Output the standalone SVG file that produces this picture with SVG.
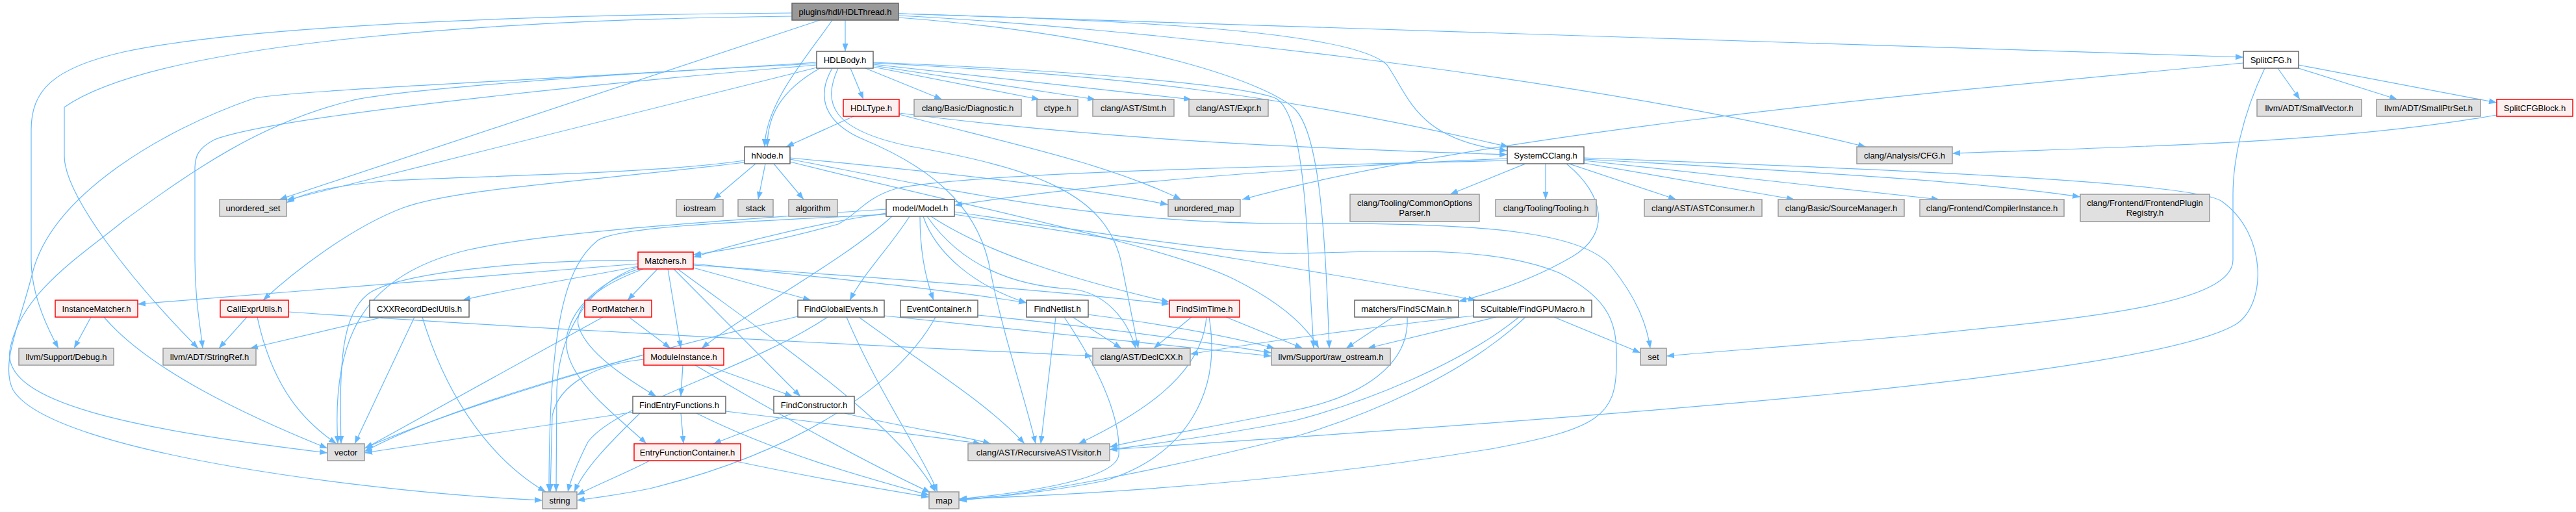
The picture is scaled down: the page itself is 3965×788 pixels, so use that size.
<svg xmlns="http://www.w3.org/2000/svg" width="3965" height="788" viewBox="0 0 3965 788">
<style>
.n rect{stroke-width:1.5}
.w rect{fill:#ffffff;stroke:#666666}
.g rect{fill:#e0e0e0;stroke:#999999}
.r rect{fill:#fff0f0;stroke:#ff0000}
.root rect{fill:#999999;stroke:#666666}
.n text{font-family:"Liberation Sans",Arial,Helvetica,sans-serif;font-size:13px;text-anchor:middle;fill:#000000}
#edges path{fill:none;stroke:#63b8ff;stroke-width:1.2;marker-end:url(#a)}
</style>
<defs>
<marker id="a" markerWidth="12" markerHeight="9" refX="12" refY="4.5" orient="auto" markerUnits="userSpaceOnUse"><path d="M0,0 L12,4.5 L0,9 z" fill="#63b8ff"/></marker>
</defs>
<rect width="3965" height="788" fill="#ffffff"/>
<g id="edges">
<path d="M1301,31 L1301,79"/>
<path d="M1281,31 C1240,90 1178,160 1177,226"/>
<path d="M1262,31 L430,307"/>
<path d="M1219,20 C900,22 400,35 190,80 C80,105 48,140 48,200 L48,400 C48,450 70,500 90,536"/>
<path d="M1219,25 C800,30 250,60 99,165 L99,240 C99,300 200,430 305,536"/>
<path d="M1383,21 C1700,30 2080,45 2135,100 C2170,150 2180,215 2320,232"/>
<path d="M1383,21 L3453,88"/>
<path d="M1383,24 C1700,40 2400,110 2872,226"/>
<path d="M1383,27 C1750,55 1960,130 1995,170 C2030,210 2040,350 2046,536"/>
<path d="M1262,105 C1200,140 1181,180 1181,226"/>
<path d="M1309,105 L1329,153"/>
<path d="M1332,105 L1450,153"/>
<path d="M1344,103 L1600,153"/>
<path d="M1344,101 L1686,153"/>
<path d="M1344,99 L1834,153"/>
<path d="M1344,97 C1700,115 1950,140 2322,226"/>
<path d="M1257,104 L441,308"/>
<path d="M1257,100 C900,130 420,180 330,215 C305,228 300,240 300,260 L300,400 C300,460 308,500 312,536"/>
<path d="M1257,98 C900,115 600,140 540,155 C400,190 300,260 190,340 C130,390 30,450 15,540 C5,620 200,660 504,697"/>
<path d="M1257,96 C900,120 420,140 389,152 C250,200 80,300 50,420 C30,500 0,560 20,600 C80,700 600,760 835,770"/>
<path d="M1290,105 C1265,160 1280,200 1400,225 C1600,260 1700,300 1725,400 C1735,450 1745,500 1752,536"/>
<path d="M1281,105 C1255,150 1270,190 1330,215 C1450,265 1510,330 1525,420 C1545,520 1580,620 1594,683"/>
<path d="M1344,96 C1700,110 1930,135 1965,152 C1995,172 2008,260 2014,400 L2022,536"/>
<path d="M1314,179 L1210,226"/>
<path d="M1384,176 C1550,220 1700,250 1818,307"/>
<path d="M1384,174 C1700,215 2000,228 2320,238"/>
<path d="M1163,252 L1098,307"/>
<path d="M1178,252 L1167,307"/>
<path d="M1191,252 L1237,307"/>
<path d="M1146,247 C1000,268 750,270 600,278 C520,285 470,295 441,312"/>
<path d="M1146,250 C900,280 700,290 620,320 C540,350 450,420 405,462"/>
<path d="M1216,243 C1500,270 1700,295 1798,315"/>
<path d="M1216,245 C1500,300 1700,345 2000,344 C2300,342 2440,360 2480,410 C2520,460 2535,500 2540,536"/>
<path d="M1216,249 C1500,320 1800,380 1900,430 C1970,465 2010,500 2030,536"/>
<path d="M3506,105 L3540,153"/>
<path d="M3538,105 L3690,153"/>
<path d="M3538,100 L3843,158"/>
<path d="M3453,97 C3000,140 2300,200 1912,307"/>
<path d="M3486,105 C3450,180 3437,250 3437,300 L3437,400 C3437,470 3200,490 2960,515 C2800,530 2650,540 2565,548"/>
<path d="M3843,177 C3600,220 3300,225 3005,236"/>
<path d="M2348,252 L2232,299"/>
<path d="M2379,252 L2379,307"/>
<path d="M2415,252 L2580,307"/>
<path d="M2438,251 L2762,307"/>
<path d="M2438,247 L2985,307"/>
<path d="M2438,245 C2800,265 3050,280 3202,303"/>
<path d="M2320,244 C2000,258 1700,280 1469,316"/>
<path d="M2411,252 C2470,300 2480,360 2420,395 C2360,430 2300,450 2245,464"/>
<path d="M2438,243 C2900,260 3380,280 3420,310 C3490,360 3490,470 3440,500 C3300,580 2500,640 1708,692"/>
<path d="M2320,247 C2000,255 1500,265 1380,290 C1330,305 1320,330 1290,345 C1200,370 1120,385 1067,392"/>
<path d="M1364,328 C1250,345 1150,370 1067,396"/>
<path d="M1373,333 C1300,400 1150,480 1080,536"/>
<path d="M1364,322 C1100,340 800,360 700,390 C560,430 510,520 520,683"/>
<path d="M1364,330 C1100,343 950,350 920,370 C870,410 845,500 845,757"/>
<path d="M1400,333 C1370,380 1330,420 1308,462"/>
<path d="M1416,333 C1416,390 1425,430 1437,462"/>
<path d="M1421,333 C1440,390 1500,440 1580,466"/>
<path d="M1427,333 C1480,410 1560,440 1650,445 C1700,450 1735,490 1748,536"/>
<path d="M1433,333 C1520,390 1650,430 1800,465"/>
<path d="M1469,330 C1800,380 2100,430 2272,462"/>
<path d="M1469,326 C1700,360 1900,392 2000,390 C2150,386 2300,378 2400,420 C2480,460 2490,500 2488,560 C2488,640 2460,660 2300,690 C2000,740 1700,760 1476,768"/>
<path d="M1012,414 L966,462"/>
<path d="M1028,414 L1048,536"/>
<path d="M1037,414 L1232,610"/>
<path d="M1043,414 C1200,530 1380,650 1440,757"/>
<path d="M1067,412 L1248,462"/>
<path d="M1067,406 C1300,430 1450,445 1580,466"/>
<path d="M1067,408 C1400,430 1650,450 1800,468"/>
<path d="M990,414 C920,440 885,470 890,500 C900,540 960,580 1010,610"/>
<path d="M982,406 L212,468"/>
<path d="M982,410 C880,430 780,445 712,462"/>
<path d="M982,401 C800,400 620,420 570,450 C525,480 522,560 525,683"/>
<path d="M982,411 C900,440 860,520 857,600 L856,757"/>
<path d="M984,414 C930,430 880,470 872,520 C865,580 950,640 995,683"/>
<path d="M968,488 L1032,536"/>
<path d="M928,488 L562,690"/>
<path d="M1051,562 L1048,610"/>
<path d="M1087,562 L1220,610"/>
<path d="M1070,562 C1200,640 1350,720 1432,758"/>
<path d="M991,553 C920,560 860,590 850,640 L847,757"/>
<path d="M991,546 C800,600 650,650 561,690"/>
<path d="M1303,488 C1350,600 1420,700 1443,757"/>
<path d="M1322,488 C1420,560 1520,620 1577,683"/>
<path d="M1361,486 C1600,510 1800,530 1957,548"/>
<path d="M1274,488 C1150,570 950,620 905,680 C890,710 878,740 874,757"/>
<path d="M1228,487 C1000,540 700,620 561,695"/>
<path d="M1505,485 C1700,505 1850,525 1957,543"/>
<path d="M1440,488 C1390,580 1250,690 1000,752 C950,762 910,767 888,770"/>
<path d="M1651,488 L1726,536"/>
<path d="M1625,488 L1602,683"/>
<path d="M1638,488 C1700,580 1725,650 1722,700 C1718,740 1560,760 1476,768"/>
<path d="M1674,484 C1800,500 1900,520 1962,536"/>
<path d="M1834,488 L1776,536"/>
<path d="M1857,488 C1850,580 1750,640 1660,683"/>
<path d="M1861,488 C1880,600 1830,700 1700,740 C1600,760 1520,765 1476,770"/>
<path d="M1887,488 L2005,536"/>
<path d="M2144,488 L2072,536"/>
<path d="M2166,488 C2170,560 2100,610 1990,632 C1850,660 1760,675 1708,688"/>
<path d="M2303,488 L2105,536"/>
<path d="M2268,486 C2100,505 1950,525 1832,545"/>
<path d="M2338,488 C2250,560 2100,620 1990,648 C1850,675 1760,685 1708,692"/>
<path d="M2348,488 C2250,580 2100,640 2000,670 C1800,720 1600,760 1476,770"/>
<path d="M2392,488 L2525,543"/>
<path d="M140,488 L114,536"/>
<path d="M160,488 C230,570 380,640 504,690"/>
<path d="M380,488 L337,536"/>
<path d="M396,488 C420,600 470,650 518,683"/>
<path d="M444,480 C800,505 1300,530 1682,548"/>
<path d="M590,488 L385,536"/>
<path d="M638,488 L546,683"/>
<path d="M650,488 C690,620 760,710 840,757"/>
<path d="M1048,636 L1052,683"/>
<path d="M976,634 L561,697"/>
<path d="M985,636 C940,680 900,720 884,757"/>
<path d="M1072,636 C1200,700 1350,740 1430,762"/>
<path d="M1117,633 C1300,655 1420,670 1510,683"/>
<path d="M1220,636 L1098,683"/>
<path d="M1300,636 C1400,660 1480,670 1525,683"/>
<path d="M1000,709 C960,730 920,745 888,762"/>
<path d="M1128,709 C1250,735 1350,752 1430,765"/>
</g>
<g id="n0" class="n root"><rect x="1219" y="5" width="164" height="26"/><text x="1301" y="22.5">plugins/hdl/HDLThread.h</text></g>
<g id="n1" class="n w"><rect x="1257" y="79" width="87" height="26"/><text x="1300.5" y="96.5">HDLBody.h</text></g>
<g id="n2" class="n w"><rect x="3453" y="79" width="85" height="26"/><text x="3495.5" y="96.5">SplitCFG.h</text></g>
<g id="n3" class="n r"><rect x="1298" y="153" width="86" height="26"/><text x="1341" y="170.5">HDLType.h</text></g>
<g id="n4" class="n g"><rect x="1407" y="153" width="165" height="26"/><text x="1489.5" y="170.5">clang/Basic/Diagnostic.h</text></g>
<g id="n5" class="n g"><rect x="1596" y="153" width="63" height="26"/><text x="1627.5" y="170.5">ctype.h</text></g>
<g id="n6" class="n g"><rect x="1682" y="153" width="125" height="26"/><text x="1744.5" y="170.5">clang/AST/Stmt.h</text></g>
<g id="n7" class="n g"><rect x="1830" y="153" width="122" height="26"/><text x="1891" y="170.5">clang/AST/Expr.h</text></g>
<g id="n8" class="n g"><rect x="3474" y="153" width="161" height="26"/><text x="3554.5" y="170.5">llvm/ADT/SmallVector.h</text></g>
<g id="n9" class="n g"><rect x="3658" y="153" width="160" height="26"/><text x="3738" y="170.5">llvm/ADT/SmallPtrSet.h</text></g>
<g id="n10" class="n r"><rect x="3843" y="153" width="117" height="26"/><text x="3901.5" y="170.5">SplitCFGBlock.h</text></g>
<g id="n11" class="n w"><rect x="1146" y="226" width="70" height="26"/><text x="1181" y="243.5">hNode.h</text></g>
<g id="n12" class="n w"><rect x="2320" y="226" width="118" height="26"/><text x="2379" y="243.5">SystemCClang.h</text></g>
<g id="n13" class="n g"><rect x="2858" y="226" width="147" height="26"/><text x="2931.5" y="243.5">clang/Analysis/CFG.h</text></g>
<g id="n14" class="n g"><rect x="338" y="307" width="103" height="26"/><text x="389.5" y="324.5">unordered_set</text></g>
<g id="n15" class="n g"><rect x="1041" y="307" width="72" height="26"/><text x="1077" y="324.5">iostream</text></g>
<g id="n16" class="n g"><rect x="1136" y="307" width="54" height="26"/><text x="1163" y="324.5">stack</text></g>
<g id="n17" class="n g"><rect x="1214" y="307" width="75" height="26"/><text x="1251.5" y="324.5">algorithm</text></g>
<g id="n18" class="n w"><rect x="1364" y="307" width="105" height="26"/><text x="1416.5" y="324.5">model/Model.h</text></g>
<g id="n19" class="n g"><rect x="1798" y="307" width="111" height="26"/><text x="1853.5" y="324.5">unordered_map</text></g>
<g id="n20" class="n g"><rect x="2078" y="299" width="199" height="42"/><text x="2177.5" y="316.5">clang/Tooling/CommonOptions</text><text x="2177.5" y="331.5">Parser.h</text></g>
<g id="n21" class="n g"><rect x="2302" y="307" width="155" height="26"/><text x="2379.5" y="324.5">clang/Tooling/Tooling.h</text></g>
<g id="n22" class="n g"><rect x="2531" y="307" width="181" height="26"/><text x="2621.5" y="324.5">clang/AST/ASTConsumer.h</text></g>
<g id="n23" class="n g"><rect x="2737" y="307" width="194" height="26"/><text x="2834" y="324.5">clang/Basic/SourceManager.h</text></g>
<g id="n24" class="n g"><rect x="2955" y="307" width="222" height="26"/><text x="3066" y="324.5">clang/Frontend/CompilerInstance.h</text></g>
<g id="n25" class="n g"><rect x="3202" y="299" width="199" height="42"/><text x="3301.5" y="316.5">clang/Frontend/FrontendPlugin</text><text x="3301.5" y="331.5">Registry.h</text></g>
<g id="n26" class="n r"><rect x="982" y="388" width="85" height="26"/><text x="1024.5" y="405.5">Matchers.h</text></g>
<g id="n27" class="n r"><rect x="85" y="462" width="127" height="26"/><text x="148.5" y="479.5">InstanceMatcher.h</text></g>
<g id="n28" class="n r"><rect x="339" y="462" width="105" height="26"/><text x="391.5" y="479.5">CallExprUtils.h</text></g>
<g id="n29" class="n w"><rect x="569" y="462" width="153" height="26"/><text x="645.5" y="479.5">CXXRecordDeclUtils.h</text></g>
<g id="n30" class="n r"><rect x="900" y="462" width="103" height="26"/><text x="951.5" y="479.5">PortMatcher.h</text></g>
<g id="n31" class="n w"><rect x="1228" y="462" width="133" height="26"/><text x="1294.5" y="479.5">FindGlobalEvents.h</text></g>
<g id="n32" class="n w"><rect x="1386" y="462" width="119" height="26"/><text x="1445.5" y="479.5">EventContainer.h</text></g>
<g id="n33" class="n w"><rect x="1580" y="462" width="95" height="26"/><text x="1627.5" y="479.5">FindNetlist.h</text></g>
<g id="n34" class="n r"><rect x="1800" y="462" width="108" height="26"/><text x="1854" y="479.5">FindSimTime.h</text></g>
<g id="n35" class="n w"><rect x="2085" y="462" width="160" height="26"/><text x="2165" y="479.5">matchers/FindSCMain.h</text></g>
<g id="n36" class="n w"><rect x="2268" y="462" width="182" height="26"/><text x="2359" y="479.5">SCuitable/FindGPUMacro.h</text></g>
<g id="n37" class="n g"><rect x="29" y="536" width="146" height="26"/><text x="102" y="553.5">llvm/Support/Debug.h</text></g>
<g id="n38" class="n g"><rect x="251" y="536" width="143" height="26"/><text x="322.5" y="553.5">llvm/ADT/StringRef.h</text></g>
<g id="n39" class="n r"><rect x="991" y="536" width="123" height="26"/><text x="1052.5" y="553.5">ModuleInstance.h</text></g>
<g id="n40" class="n g"><rect x="1682" y="536" width="150" height="26"/><text x="1757" y="553.5">clang/AST/DeclCXX.h</text></g>
<g id="n41" class="n g"><rect x="1957" y="536" width="183" height="26"/><text x="2048.5" y="553.5">llvm/Support/raw_ostream.h</text></g>
<g id="n42" class="n g"><rect x="2525" y="536" width="40" height="26"/><text x="2545" y="553.5">set</text></g>
<g id="n43" class="n w"><rect x="974" y="610" width="143" height="26"/><text x="1045.5" y="627.5">FindEntryFunctions.h</text></g>
<g id="n44" class="n w"><rect x="1191" y="610" width="124" height="26"/><text x="1253" y="627.5">FindConstructor.h</text></g>
<g id="n45" class="n g"><rect x="504" y="683" width="57" height="26"/><text x="532.5" y="700.5">vector</text></g>
<g id="n46" class="n r"><rect x="976" y="683" width="164" height="26"/><text x="1058" y="700.5">EntryFunctionContainer.h</text></g>
<g id="n47" class="n g"><rect x="1490" y="683" width="218" height="26"/><text x="1599" y="700.5">clang/AST/RecursiveASTVisitor.h</text></g>
<g id="n48" class="n g"><rect x="835" y="757" width="53" height="26"/><text x="861.5" y="774.5">string</text></g>
<g id="n49" class="n g"><rect x="1430" y="757" width="46" height="26"/><text x="1453" y="774.5">map</text></g>
</svg>
